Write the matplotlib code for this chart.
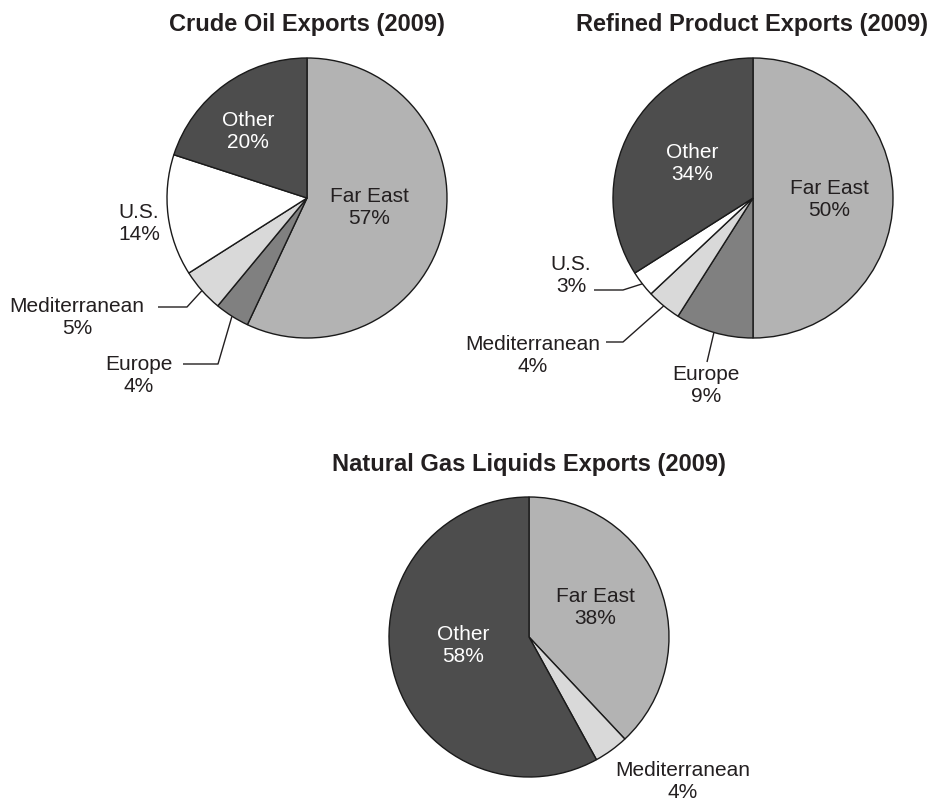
import numpy as np
import matplotlib.pyplot as plt

plt.rcParams['font.family'] = ['Liberation Sans', 'DejaVu Sans']

# data
crude_labels = ['Far East', 'Europe', 'Mediterranean', 'U.S.', 'Other']
crude_values = [57, 4, 5, 14, 20]
refined_labels = ['Far East', 'Europe', 'Mediterranean', 'U.S.', 'Other']
refined_values = [50, 9, 4, 3, 34]
ngl_labels = ['Far East', 'Mediterranean', 'Other']
ngl_values = [38, 4, 58]

region_colors = {'Far East': '#b3b3b3', 'Europe': '#808080', 'Mediterranean': '#d9d9d9',
                 'U.S.': '#ffffff', 'Other': '#4d4d4d'}

W, H = 932, 802
R = 140
TXT = '#231f20'

# layout in image pixels (y measured from top)
# per label: (text x, text y, elbow point or None, line end or None)
charts = [
    dict(title='Crude Oil Exports (2009)', title_xy=(307, 25), center=(307, 198),
         labels=crude_labels, values=crude_values,
         pos={'Far East': (369, 208, None, None),
              'Other': (248, 132, None, None),
              'U.S.': (139, 224, None, None),
              'Mediterranean': (77, 318, (187, 307), (158, 307)),
              'Europe': (139, 376, (218, 364), (183, 364))}),
    dict(title='Refined Product Exports (2009)', title_xy=(752, 25), center=(753, 198),
         labels=refined_labels, values=refined_values,
         pos={'Far East': (829, 200, None, None),
              'Other': (692, 163, None, None),
              'U.S.': (571, 275, (623, 290), (594, 290)),
              'Mediterranean': (533, 355, (623, 342), (606, 342)),
              'Europe': (706, 386, (707, 362), (707, 362))}),
    dict(title='Natural Gas Liquids Exports (2009)', title_xy=(529, 465), center=(529, 637),
         labels=ngl_labels, values=ngl_values,
         pos={'Far East': (595, 607, None, None),
              'Other': (463, 645, None, None),
              'Mediterranean': (683, 782, None, None)}),
]

fig = plt.figure(figsize=(W / 100, H / 100), dpi=100)
ax = fig.add_axes([0, 0, 1, 1])


def Y(y):
    return H - y


for c in charts:
    cx, cy = c['center']
    wedges, _ = ax.pie(c['values'], center=(cx, Y(cy)), radius=R, startangle=90,
                       counterclock=False,
                       colors=[region_colors[l] for l in c['labels']],
                       wedgeprops=dict(edgecolor='#1a1a1a', linewidth=1.0))
    tx, ty = c['title_xy']
    ax.text(tx, Y(ty), c['title'], ha='center', va='center', fontsize=17,
            fontweight='bold', color=TXT)
    for w, lab, val in zip(wedges, c['labels'], c['values']):
        x, y, elbow, end = c['pos'][lab]
        col = 'white' if lab == 'Other' else TXT
        ax.text(x, Y(y), f'{lab}\n{val}%', ha='center', va='center',
                multialignment='center', fontsize=15, color=col, linespacing=1.2)
        if elbow is not None:
            mid = np.deg2rad((w.theta1 + w.theta2) / 2)
            ex = cx + R * np.cos(mid)
            ey = Y(cy) + R * np.sin(mid)
            ax.plot([ex, elbow[0], end[0]], [ey, Y(elbow[1]), Y(end[1])],
                    color=TXT, linewidth=1.0, solid_capstyle='butt')

ax.set_xlim(0, W)
ax.set_ylim(0, H)
ax.set_aspect('equal')
ax.axis('off')

fig.savefig('out.png', dpi=100)
